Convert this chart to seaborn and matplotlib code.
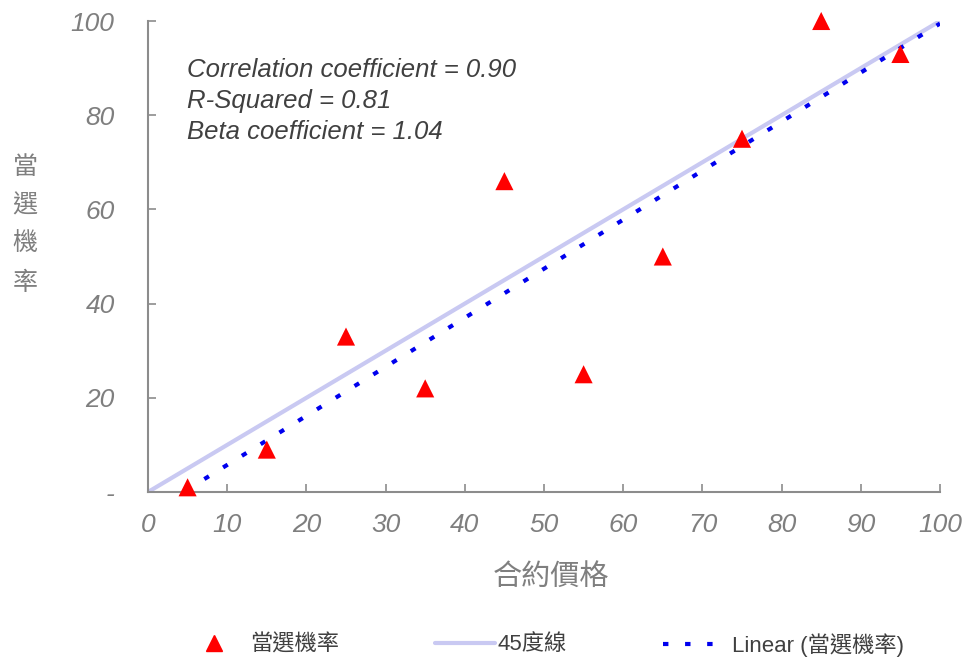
import matplotlib
matplotlib.use("Agg")
import matplotlib.pyplot as plt
import seaborn as sns
import pandas as pd
from matplotlib.lines import Line2D

# data
price = [5, 15, 25, 35, 45, 55, 65, 75, 85, 95]
win_prob = [1, 9, 33, 22, 66, 25, 50, 75, 100, 93]
diag = [0, 100]
x_ticks = [0, 10, 20, 30, 40, 50, 60, 70, 80, 90, 100]
y_ticks = [0, 20, 40, 60, 80, 100]
y_ticklabels = ['-', '20', '40', '60', '80', '100']
stats_text = ["Correlation coefficient = 0.90", "R-Squared = 0.81", "Beta coefficient = 1.04"]
legend_labels = ["當選機率", "45度線", "Linear (當選機率)"]

sns.set_theme(style="white")
plt.rcParams['font.family'] = ['Liberation Sans', 'Noto Sans CJK TC', 'DejaVu Sans']

df = pd.DataFrame({"price": price, "prob": win_prob})

fig = plt.figure(figsize=(9.63, 6.58), dpi=100)
ax = fig.add_axes([148/963, 1-492/658, (940-148)/963, (492-21)/658])
ax.set_xlim(0, 100)
ax.set_ylim(0, 100)

grey = '#7f7f7f'
lav = '#c9c9f2'
blue = '#0000ee'
dots = (0, (1.3, 4.0))
ax.plot(diag, diag, color=lav, lw=3, solid_capstyle='butt', zorder=1)
sns.regplot(data=df, x="price", y="prob", ax=ax, scatter=False, ci=None, truncate=False,
            line_kws=dict(color=blue, lw=3, linestyle=dots, zorder=2))
sns.scatterplot(data=df, x="price", y="prob", ax=ax, marker='^', color='#ff0000',
                s=170, edgecolor='none', zorder=3, clip_on=False)
ax.set_xlim(0, 100)
ax.set_ylim(0, 100)

for s in ['top', 'right']:
    ax.spines[s].set_visible(False)
for s in ['left', 'bottom']:
    ax.spines[s].set_color('#8c8c8c')
    ax.spines[s].set_linewidth(1.5)

ax.set_xticks(x_ticks)
ax.set_yticks(y_ticks)
ax.set_yticklabels(y_ticklabels)
ax.tick_params(axis='both', direction='in', length=6, width=1.2, color='#8c8c8c',
               labelcolor=grey, labelsize=19)
ax.tick_params(axis='y', pad=24, left=True)
ax.tick_params(axis='x', pad=15, bottom=True)
for lab in ax.get_xticklabels() + ax.get_yticklabels():
    lab.set_fontstyle('italic')

ax.set_xlabel("")
ax.set_ylabel("")
fig.text(551/963, 1-577/658, "合約價格", ha='center', va='center', fontsize=21, color=grey)
fig.text(25/963, 1-225/658, "\n".join("當選機率"), ha='center', va='center', fontsize=18,
         color=grey, linespacing=1.77)

for i, t in enumerate(stats_text):
    fig.text(187/963, 1-(70+31*i)/658, t, ha='left', va='center', fontsize=18.5,
             style='italic', color='#404040')

fs = 16
px = fs * 100 / 72
entries = [
    (Line2D([], [], marker='^', color='#ff0000', linestyle='none', markersize=11), legend_labels[0],
     203, 22 / px, (250 - 225) / px),
    (Line2D([], [], color=lav, lw=3), legend_labels[1], 435, 60 / px, 2 / px),
    (Line2D([], [], color=blue, lw=3, linestyle=dots), legend_labels[2], 663, 52 / px, 17 / px),
]
for h, lab, x0, hl, pad in entries:
    leg = fig.legend([h], [lab], loc='center left', bbox_to_anchor=(x0/963, 1-645/658),
                     frameon=False, fontsize=fs, handlelength=hl, handletextpad=pad,
                     borderpad=0, borderaxespad=0)
    for t in leg.get_texts():
        t.set_color('#404040')

fig.savefig("out.png", dpi=100)
